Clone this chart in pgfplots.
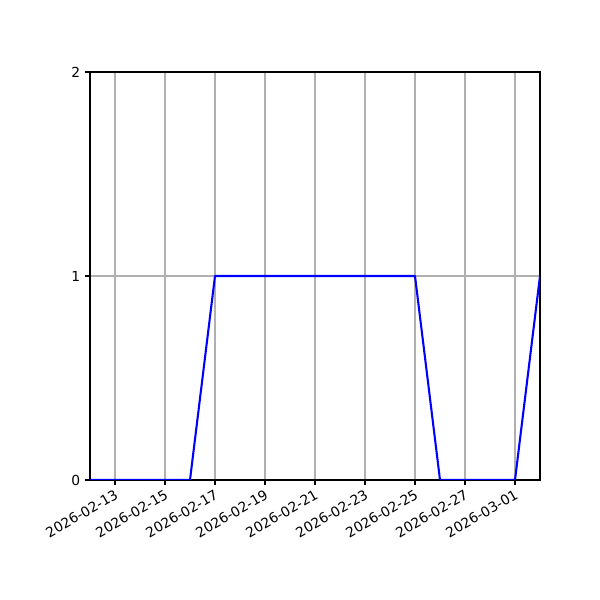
\documentclass[border=0pt]{standalone}
\usepackage{pgfplots}
\pgfplotsset{compat=1.18}
\usepackage{fontspec}
\setmainfont{DejaVu Sans}
\begin{document}
\begin{tikzpicture}
\useasboundingbox (0,0) rectangle (6in,6in);
\begin{axis}[
    at={(0.9in,1.2in)}, anchor=south west,
    scale only axis,
    width=4.5in, height=4.08in,
    xmin=0, xmax=18, ymin=0, ymax=2,
    xtick={1,3,5,7,9,11,13,15,17},
    xticklabels={2026-02-13,2026-02-15,2026-02-17,2026-02-19,2026-02-21,2026-02-23,2026-02-25,2026-02-27,2026-03-01},
    ytick={0,1,2},
    grid=major,
    grid style={color=black!31, line width=0.8pt},
    axis line style={line width=0.8pt},
    tick style={black, line width=0.8pt},
    tick align=outside,
    major tick length=3.5pt,
    tick pos=left,
    ticklabel style={font=\fontsize{10}{12}\selectfont},
    xticklabel style={rotate=30, anchor=north east, inner sep=2pt},
    /pgf/number format/assume math mode=true,
]
\addplot[blue, line width=1.5pt, line join=round] coordinates {
(0,0) (1,0) (2,0) (3,0) (4,0) (5,1) (6,1) (7,1) (8,1) (9,1) (10,1) (11,1) (12,1) (13,1) (14,0) (15,0) (16,0) (17,0) (18,1)
};
\end{axis}
\end{tikzpicture}
\end{document}
